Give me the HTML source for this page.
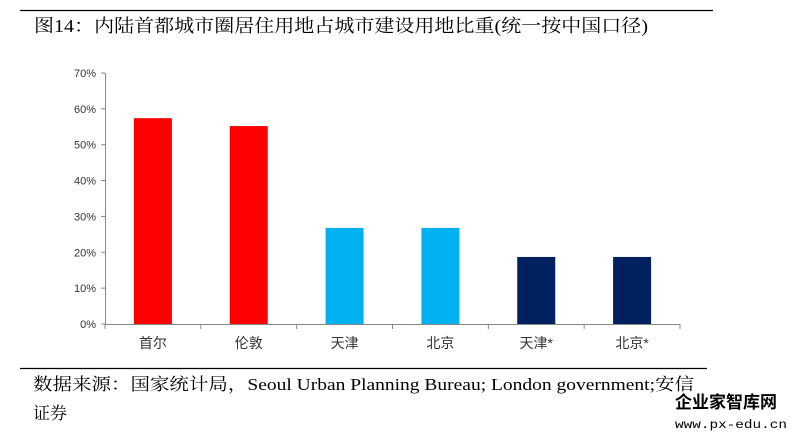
<!DOCTYPE html>
<html><head><meta charset="utf-8"><style>
html,body{margin:0;padding:0;background:#fff;}
svg{display:block;}
</style></head><body>
<svg width="792" height="432" viewBox="0 0 792 432" xmlns="http://www.w3.org/2000/svg">
<line x1="20" y1="10.5" x2="713" y2="10.5" stroke="#000" stroke-width="1.2"/>
<text x="34" y="32" font-family="'Liberation Serif','Noto Serif CJK SC',serif" font-size="18" textLength="614" lengthAdjust="spacingAndGlyphs">图14：内陆首都城市圈居住用地占城市建设用地比重(统一按中国口径)</text>
<g id="plot"></g>
<line x1="20" y1="368.5" x2="707" y2="368.5" stroke="#000" stroke-width="1.2"/>
<text x="33" y="390" font-family="'Liberation Serif','Noto Serif CJK SC',serif" font-size="17" textLength="661" lengthAdjust="spacingAndGlyphs">数据来源：国家统计局，Seoul Urban Planning Bureau; London government;安信</text>
<text x="33" y="419" font-family="'Liberation Serif','Noto Serif CJK SC',serif" font-size="17">证券</text>
<text x="675" y="408" font-family="'Noto Sans CJK SC',sans-serif" font-weight="bold" font-size="17">企业家智库网</text>
<text x="675" y="428" font-family="'Liberation Mono',monospace" font-size="12" textLength="112" lengthAdjust="spacingAndGlyphs">www.px-edu.cn</text>
</svg>
<script>
const categories=["首尔","伦敦","天津","北京","天津*","北京*"];
const values=[57.4,55.2,26.8,26.8,18.7,18.7];
const colors=["#ff0000","#ff0000","#00b0f0","#00b0f0","#002060","#002060"];
const yTicks=[0,10,20,30,40,50,60,70];
const NS="http://www.w3.org/2000/svg";
const g=document.getElementById('plot');
const x0=105,x1=680,y0=324,yTop=73;
const band=(x1-x0)/categories.length;
function yScale(v){return y0-(v/70)*(y0-yTop);}
function xCenter(i){return x0+band*(i+0.5);}
function mk(t,a){const e=document.createElementNS(NS,t);for(const k in a)e.setAttribute(k,a[k]);g.appendChild(e);return e;}
let ax=mk('line',{x1:x0+0.5,y1:yTop,x2:x0+0.5,y2:y0,stroke:'#888'});


yTicks.forEach(t=>{
 const y=yScale(t);
 const l=mk('line',{x1:x0-4,y1:y,x2:x0,y2:y,stroke:'#888'});
 
 
 const tx=mk('text',{x:x0-9,y:y+4,'text-anchor':'end','font-family':"'Liberation Sans',sans-serif",'font-size':'11',fill:'#333'});
 tx.textContent=t+'%';
 
 
});
categories.forEach((c,i)=>{
 const bw=38,v=values[i];
 const r=mk('rect',{x:xCenter(i)-bw/2,y:yScale(v),width:bw,height:y0-yScale(v),fill:colors[i]});
 
 
 const tx=mk('text',{x:xCenter(i),y:y0+24,'text-anchor':'middle','font-family':"'Liberation Sans','Noto Sans CJK SC',sans-serif",'font-size':'14',fill:'#333'});
 tx.textContent=c;
 
 
});
for(let i=0;i<=categories.length;i++){
 const x=x0+band*i;
 const l=mk('line',{x1:x,y1:y0,x2:x,y2:y0+5,stroke:'#888'});
 
 
}
const xa=mk('line',{x1:x0,y1:y0+0.5,x2:x1,y2:y0+0.5,stroke:'#888'});


</script>
</body></html>
